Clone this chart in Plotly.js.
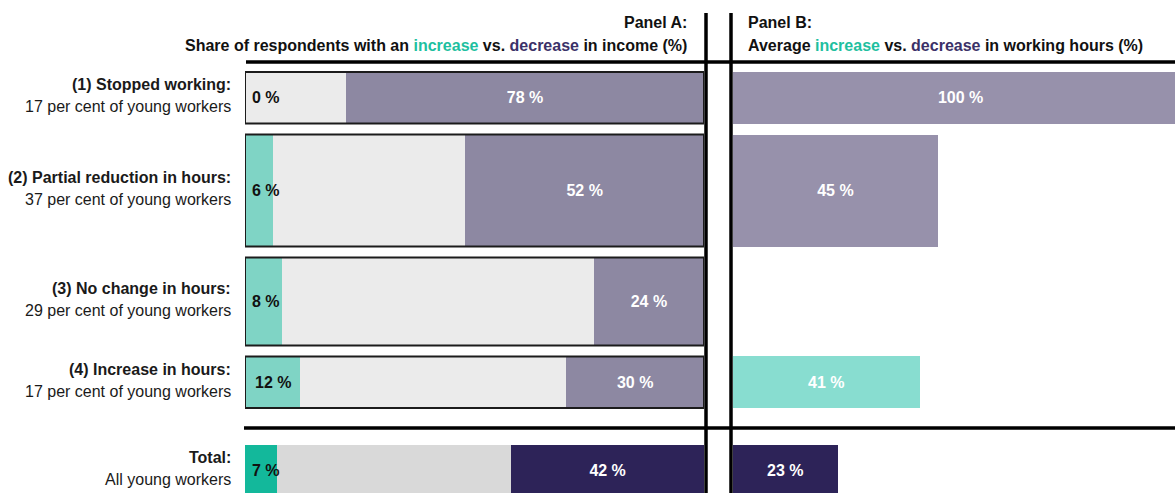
<!DOCTYPE html>
<html>
<head>
<meta charset="utf-8">
<script src="https://cdn.plot.ly/plotly-3.0.1.min.js"></script>
<style>html,body{margin:0;padding:0;background:#fff;}#chart{width:1175px;height:493px;}</style>
</head>
<body>
<div id="chart"></div>
<script>
// ---- data ----
const rowTitles = ['(1) Stopped working:', '(2) Partial reduction in hours:', '(3) No change in hours:', '(4) Increase in hours:', 'Total:'];
const rowSubtitles = ['17 per cent of young workers', '37 per cent of young workers', '29 per cent of young workers', '17 per cent of young workers', 'All young workers'];
const workerShare = [17, 37, 29, 17, 17];          // bar thickness (total row drawn at the smallest thickness)
const incomeIncrease = [0, 6, 8, 12, 7];           // Panel A, % with increase in income
const incomeDecrease = [78, 52, 24, 30, 42];       // Panel A, % with decrease in income
const hoursChange = [100, 45, null, 41, 23];       // Panel B, average change in working hours (%)
const hoursDirection = ['decrease', 'decrease', null, 'increase', 'decrease'];

// ---- styles ----
const FONT = 'Liberation Sans Narrow, Arial Narrow, Liberation Sans, Arial, sans-serif';
const FS = 16;
const W = 1175, H = 493;
const PX_PER_SHARE = 3.03, TOP = 72, GAP = 11, TOTAL_GAP = 37;
const incColA = ['#7fd4c5', '#7fd4c5', '#7fd4c5', '#7fd4c5', '#13b89b'];
const midColA = ['#ebebeb', '#ebebeb', '#ebebeb', '#ebebeb', '#d9d9d9'];
const decColA = ['#8d88a2', '#8d88a2', '#8d88a2', '#8d88a2', '#2d2358'];

// ---- layout positions (y axis in pixel units) ----
const tops = [], centers = [], thick = [];
let yy = TOP;
workerShare.forEach((s, i) => {
  const h = s * PX_PER_SHARE;
  tops.push(yy); thick.push(h); centers.push(yy + h / 2);
  yy += h + (i === 3 ? TOTAL_GAP : GAP);
});
const incomeNoChange = incomeIncrease.map((v, i) => 100 - v - incomeDecrease[i]);

const hoursColors = hoursDirection.map((d, i) => i === 4 ? '#2d2358' : (d === 'increase' ? '#88ddd0' : '#9791ab'));

const traces = [
  {type: 'bar', orientation: 'h', x: incomeIncrease, y: centers, width: thick, xaxis: 'x', yaxis: 'y',
   marker: {color: incColA, line: {width: 0}}, hoverinfo: 'skip'},
  {type: 'bar', orientation: 'h', x: incomeNoChange, y: centers, width: thick, xaxis: 'x', yaxis: 'y',
   marker: {color: midColA, line: {width: 0}}, hoverinfo: 'skip'},
  {type: 'bar', orientation: 'h', x: incomeDecrease, y: centers, width: thick, xaxis: 'x', yaxis: 'y',
   marker: {color: decColA, line: {width: 0}}, hoverinfo: 'skip',
   text: incomeDecrease.map(v => '<b>' + v + ' %</b>'), textposition: 'inside', insidetextanchor: 'middle',
   constraintext: 'none', textfont: {family: FONT, size: FS, color: '#ffffff'}},
  {type: 'bar', orientation: 'h', x: hoursChange, y: centers, width: thick, xaxis: 'x2', yaxis: 'y',
   marker: {color: hoursColors, line: {width: 0}}, hoverinfo: 'skip',
   text: hoursChange.map(v => v === null ? '' : '<b>' + v + ' %</b>'), textposition: 'inside', insidetextanchor: 'middle',
   constraintext: 'none', textfont: {family: FONT, size: FS, color: '#ffffff'}}
];

const annotations = [];
rowTitles.forEach((t, i) => {
  annotations.push({xref: 'paper', yref: 'y', x: 233 / W, y: centers[i] - 13, xanchor: 'right', yanchor: 'middle',
    align: 'right', showarrow: false, text: '<b>' + t + '</b>',
    font: {family: FONT, size: FS, color: '#1a1a1a'}});
  annotations.push({xref: 'paper', yref: 'y', x: 233 / W, y: centers[i] + 9, xanchor: 'right', yanchor: 'middle',
    align: 'right', showarrow: false, text: rowSubtitles[i],
    font: {family: FONT, size: FS, color: '#1a1a1a'}});
  annotations.push({xref: 'x', yref: 'y', x: Math.max(incomeIncrease[i] / 2, 4.6), y: centers[i], xanchor: 'center',
    yanchor: 'middle', showarrow: false, text: '<b>' + incomeIncrease[i] + ' %</b>',
    font: {family: FONT, size: FS, color: '#111111'}});
});
const inc = '<span style="color:#1ebfa0">increase</span>';
const dec = '<span style="color:#3b3168">decrease</span>';
const headers = [
  {x: 689 / W, anchor: 'right', lines: ['Panel A:', 'Share of respondents with an ' + inc + ' vs. ' + dec + ' in income (%)']},
  {x: 746 / W, anchor: 'left', lines: ['Panel B:', 'Average ' + inc + ' vs. ' + dec + ' in working hours (%)']}
];
headers.forEach(h => {
  h.lines.forEach((ln, j) => {
    annotations.push({xref: 'paper', yref: 'y', x: h.x, y: 22 + j * 23, xanchor: h.anchor, yanchor: 'middle',
      align: h.anchor, showarrow: false, font: {family: FONT, size: FS, color: '#111111'}, text: '<b>' + ln + '</b>'});
  });
});

const shapes = [];
for (let i = 0; i < 4; i++) {
  shapes.push({type: 'rect', xref: 'x', yref: 'y', x0: 0, x1: 100, y0: tops[i], y1: tops[i] + thick[i],
    line: {color: '#1c1c1c', width: 2}, fillcolor: 'rgba(0,0,0,0)', layer: 'above'});
}
const sepY = tops[3] + thick[3] + 20;
shapes.push({type: 'line', xref: 'paper', yref: 'y', x0: 706 / W, x1: 706 / W, y0: 13, y1: H, line: {color: '#000', width: 3.5}});
shapes.push({type: 'line', xref: 'paper', yref: 'y', x0: 731 / W, x1: 731 / W, y0: 13, y1: H, line: {color: '#000', width: 3.5}});
shapes.push({type: 'line', xref: 'paper', yref: 'y', x0: 246 / W, x1: 1, y0: 62, y1: 62, line: {color: '#000', width: 3.5}});
shapes.push({type: 'line', xref: 'paper', yref: 'y', x0: 244 / W, x1: 1, y0: sepY, y1: sepY, line: {color: '#000', width: 3.5}});

const layout = {
  width: W, height: H, margin: {l: 0, r: 0, t: 0, b: 0},
  paper_bgcolor: '#ffffff', plot_bgcolor: 'rgba(0,0,0,0)',
  barmode: 'stack', bargap: 0, showlegend: false,
  xaxis: {domain: [245 / W, 704 / W], range: [0, 100], visible: false, fixedrange: true},
  xaxis2: {domain: [733 / W, 1], range: [0, 97.1], visible: false, fixedrange: true, anchor: 'y'},
  yaxis: {domain: [0, 1], range: [H, 0], visible: false, fixedrange: true},
  annotations: annotations, shapes: shapes,
  font: {family: FONT}
};
Plotly.newPlot('chart', traces, layout, {displayModeBar: false, staticPlot: true});
</script>
</body>
</html>
